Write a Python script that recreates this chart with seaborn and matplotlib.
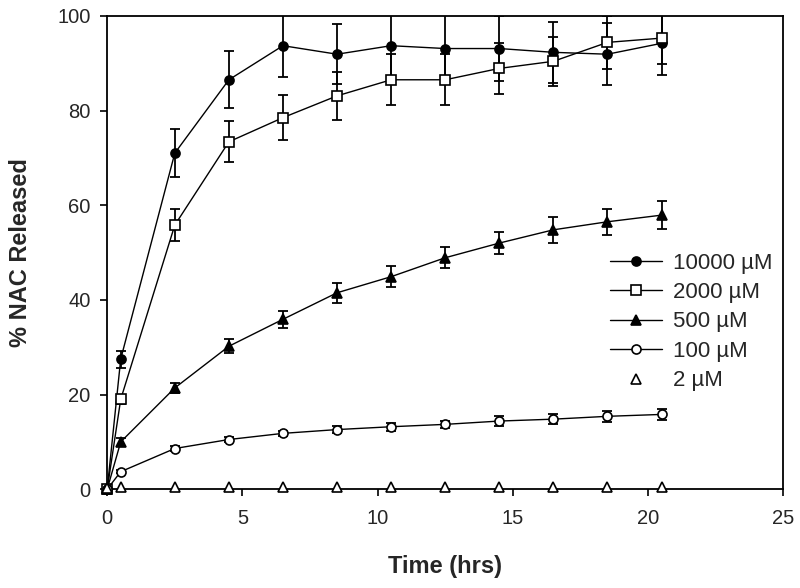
import seaborn as sns
import matplotlib.pyplot as plt
import pandas as pd

# time points (hrs)
time_hrs = [0, 0.5, 2.5, 4.5, 6.5, 8.5, 10.5, 12.5, 14.5, 16.5, 18.5, 20.5]

# % NAC released, mean and error for each concentration
rel_10000 = [0, 27.5, 71.0, 86.5, 93.7, 91.9, 93.7, 93.1, 93.1, 92.3, 91.9, 94.2]
err_10000 = [0, 1.8, 5.0, 6.0, 6.7, 6.3, 7.0, 7.0, 6.8, 6.5, 6.5, 6.7]
rel_2000 = [0, 19.0, 55.8, 73.4, 78.5, 83.1, 86.5, 86.5, 88.9, 90.4, 94.4, 95.3]
err_2000 = [0, 1.0, 3.3, 4.3, 4.7, 5.0, 5.4, 5.4, 5.3, 5.2, 5.6, 5.5]
rel_500 = [0, 10.0, 21.4, 30.2, 35.9, 41.5, 44.9, 48.9, 52.0, 54.8, 56.5, 57.9]
err_500 = [0, 0.8, 1.0, 1.5, 1.8, 2.1, 2.2, 2.2, 2.4, 2.7, 2.7, 2.9]
rel_100 = [0, 3.7, 8.6, 10.5, 11.8, 12.6, 13.2, 13.7, 14.4, 14.8, 15.4, 15.8]
err_100 = [0, 0.3, 0.5, 0.5, 0.6, 0.7, 0.8, 0.8, 1.0, 1.0, 1.1, 1.2]
rel_2 = [0.3, 0.5, 0.5, 0.5, 0.5, 0.5, 0.5, 0.5, 0.5, 0.5, 0.5, 0.5]

labels = ['10000 µM', '2000 µM', '500 µM', '100 µM', '2 µM']

sns.set_theme(style="ticks")
plt.rcParams['font.family'] = ['Liberation Sans', 'DejaVu Sans']

fig, ax = plt.subplots(figsize=(8, 5.88), dpi=100)
fig.subplots_adjust(left=0.134, right=0.979, top=0.973, bottom=0.168)

series = [
    (rel_10000, err_10000, labels[0], 'o', 'black', 6.5, '-'),
    (rel_2000, err_2000, labels[1], 's', 'white', 7, '-'),
    (rel_500, err_500, labels[2], '^', 'black', 7, '-'),
    (rel_100, err_100, labels[3], 'o', 'white', 6.5, '-'),
    (rel_2, None, labels[4], '^', 'white', 6.5, 'none'),
]

for vals, errs, lab, mk, fc, ms, ls in series:
    df = pd.DataFrame({'Time': time_hrs, 'Released': vals})
    if errs is not None:
        ax.errorbar(df['Time'], df['Released'], yerr=errs, fmt='none',
                    ecolor='black', elinewidth=1.3, capsize=3.5, capthick=1.3,
                    zorder=2)
    sns.lineplot(data=df, x='Time', y='Released', ax=ax, color='black',
                 linewidth=1.0, linestyle=ls, marker=mk, markersize=ms,
                 markerfacecolor=fc, markeredgecolor='black',
                 markeredgewidth=1.2, label=lab, clip_on=False, zorder=3)

ax.set_xlim(0, 25)
ax.set_ylim(0, 100)
ax.set_xticks([0, 5, 10, 15, 20, 25])
ax.set_yticks([0, 20, 40, 60, 80, 100])
ax.tick_params(axis='both', labelsize=14.5, length=5, width=1.2, color='black',
               direction='out')
ax.tick_params(axis='x', pad=9)
ax.tick_params(axis='y', pad=7)

for side in ['left', 'right', 'top', 'bottom']:
    ax.spines[side].set_visible(True)
    ax.spines[side].set_color('black')
    ax.spines[side].set_linewidth(1.3)

ax.set_xlabel('Time (hrs)', fontsize=17, fontweight='bold', labelpad=20)
ax.set_ylabel('% NAC Released', fontsize=17, fontweight='bold', labelpad=18)

ax.legend(loc='upper left', bbox_to_anchor=(0.744, 0.50), frameon=False,
          fontsize=16, handlelength=2.35, handletextpad=0.5,
          labelspacing=0.38, borderpad=0, borderaxespad=0)

plt.savefig('out.png', dpi=100)
plt.close()
